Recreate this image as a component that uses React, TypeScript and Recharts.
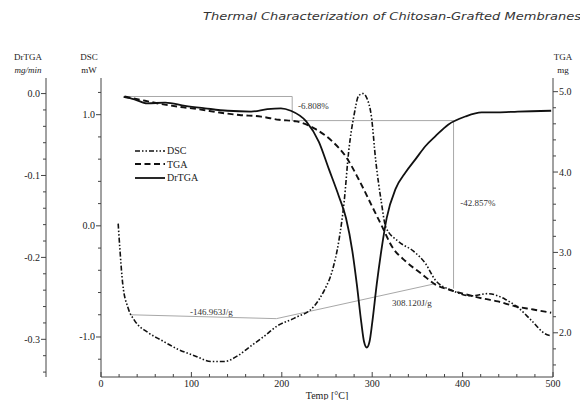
import React from "react";
import {
  ComposedChart,
  Line,
  XAxis,
  YAxis,
  Legend,
  ReferenceDot,
} from "recharts";

const SERIF = "'Liberation Serif', 'DejaVu Serif', serif";
const INK = "#222";
const GUIDE = "#a8a8a8";

// DSC heat flow (mW) vs temperature (°C)
const dscTemp = [19, 21, 24, 30, 37, 52, 67, 85, 104, 122, 137, 151, 166, 181, 195, 214, 236, 247, 256, 263, 269, 274, 280, 285, 290, 294, 299, 304, 310, 315, 329, 346, 359, 370, 388, 410, 428, 447, 462, 476, 491, 498];
const dscValue = [0.02, -0.22, -0.52, -0.74, -0.85, -0.96, -1.03, -1.11, -1.17, -1.22, -1.22, -1.17, -1.08, -0.99, -0.9, -0.83, -0.72, -0.58, -0.4, -0.14, 0.22, 0.67, 1.0, 1.17, 1.19, 1.15, 0.99, 0.58, 0.22, -0.01, -0.14, -0.23, -0.34, -0.49, -0.58, -0.63, -0.61, -0.66, -0.74, -0.85, -0.97, -0.99];

// TGA mass (mg)
const tgaTemp = [26, 43, 65, 87, 109, 131, 153, 177, 197, 216, 238, 256, 271, 285, 300, 311, 322, 337, 355, 370, 384, 403, 421, 439, 458, 478, 498];
const tgaMass = [4.94, 4.9, 4.85, 4.81, 4.78, 4.74, 4.71, 4.69, 4.65, 4.63, 4.53, 4.38, 4.19, 3.91, 3.57, 3.32, 3.07, 2.89, 2.73, 2.6, 2.54, 2.48, 2.43, 2.39, 2.33, 2.29, 2.25];

// DrTGA (mg/min)
const drTemp = [25, 37, 51, 71, 93, 115, 140, 166, 184, 199, 210, 227, 241, 252, 263, 271, 278, 283, 288, 291, 294, 297, 300, 305, 311, 316, 326, 337, 348, 359, 370, 384, 403, 421, 439, 461, 498];
const drValue = [-0.004, -0.007, -0.012, -0.011, -0.015, -0.018, -0.021, -0.022, -0.019, -0.018, -0.021, -0.034, -0.059, -0.092, -0.125, -0.152, -0.192, -0.233, -0.28, -0.303, -0.31, -0.303, -0.28, -0.233, -0.185, -0.152, -0.116, -0.096, -0.08, -0.064, -0.052, -0.038, -0.028, -0.023, -0.023, -0.022, -0.021];

// grey construction lines (mass step on TGA, DSC baselines)
const stepTemp = [26, 211.5, 211.5, 390, 390];
const stepMass = [4.94, 4.94, 4.64, 4.64, 2.55];
const baseTemp = [32, 194, 370];
const baseDsc = [-0.8, -0.835, -0.52];

// annotation texts and where they sit
const noteText = ["-6.808%", "-42.857%", "-146.963J/g", "308.120J/g"];
const noteAxis = ["tga", "tga", "heat", "heat"];
const noteTemp = [235, 417, 122, 344];
const noteValue = [4.83, 3.62, -0.77, -0.69];

// tick labels
const xMajor = [0, 100, 200, 300, 400, 500];
const dscMajor = [-1, 0, 1];
const drMajor = [0, -0.1, -0.2, -0.3];
const tgaMajor = [2, 3, 4, 5];

const legendNames = ["DSC", "TGA", "DrTGA"];
const seriesStyle: Record<string, { dash?: string; width: number }> = {
  DSC: { dash: "5 2 1.5 2 1.5 2", width: 1.6 },
  TGA: { dash: "6 3.5", width: 1.9 },
  DrTGA: { width: 1.8 },
};

const range = (a: number, b: number, s: number) => {
  const out: number[] = [];
  for (let i = 0; a + i * s <= b + 1e-9; i++) out.push(Math.round((a + i * s) * 1000) / 1000);
  return out;
};

const pairs = (xs: number[], ys: number[]) => xs.map((t, i) => ({ t, v: ys[i] }));

const dscData = pairs(dscTemp, dscValue);
const tgaData = pairs(tgaTemp, tgaMass);
const drData = pairs(drTemp, drValue);
const stepData = pairs(stepTemp, stepMass);
const baseData = pairs(baseTemp, baseDsc);

function AxisTick(props: any) {
  const { x, y, payload, side, majors, digits } = props;
  const v = payload.value;
  const major = majors.some((m: number) => Math.abs(m - v) < 1e-6);
  const len = major ? 5 : 3;
  const label = major ? Number(v).toFixed(digits) : "";
  const txt = { fontFamily: SERIF, fontSize: 10, fill: INK };
  if (side === "left") {
    return (
      <g>
        <line x1={x - len} x2={x} y1={y} y2={y} stroke="#444" />
        {label && (
          <text x={x - 6} y={y} dy="0.35em" textAnchor="end" {...txt}>
            {label}
          </text>
        )}
      </g>
    );
  }
  if (side === "right") {
    return (
      <g>
        <line x1={x} x2={x + len} y1={y} y2={y} stroke="#444" />
        {label && (
          <text x={x + 6} y={y} dy="0.35em" textAnchor="start" {...txt}>
            {label}
          </text>
        )}
      </g>
    );
  }
  return (
    <g>
      <line x1={x} x2={x} y1={y} y2={y - len} stroke="#444" />
      {label && (
        <text x={x} y={y + 10} textAnchor="middle" {...txt}>
          {label}
        </text>
      )}
    </g>
  );
}

function LegendBox() {
  return (
    <div style={{ fontFamily: SERIF, fontSize: 10, color: INK, lineHeight: "13.5px" }}>
      {legendNames.map((n) => (
        <div key={n} style={{ display: "flex", alignItems: "center", height: 13.5 }}>
          <svg width={30} height={6}>
            <line
              x1={0}
              x2={30}
              y1={3}
              y2={3}
              stroke="#111"
              strokeWidth={seriesStyle[n].width}
              strokeDasharray={seriesStyle[n].dash}
            />
          </svg>
          <span style={{ marginLeft: 2 }}>{n}</span>
        </div>
      ))}
    </div>
  );
}

export default function App() {
  const axisLine = { stroke: "#444" };
  return (
    <div style={{ position: "fixed", left: 0, top: 0, width: 580, height: 400, background: "#fff" }}>
      <ComposedChart width={580} height={400} margin={{ top: 78, right: 0, bottom: 0, left: 0 }}>
        <XAxis
          dataKey="t"
          type="number"
          domain={[0, 500]}
          ticks={range(0, 500, 20)}
          interval={0}
          height={23}
          tickSize={0}
          tickMargin={0}
          tickLine={false}
          axisLine={axisLine}
          allowDataOverflow
          tick={(p: any) => <AxisTick {...p} side="bottom" majors={xMajor} digits={0} />}
        />
        <XAxis
          xAxisId="top"
          orientation="top"
          type="number"
          domain={[0, 500]}
          height={0}
          tick={false}
          tickLine={false}
          axisLine={{ stroke: "#888" }}
        />
        {/* DSC scale sits on the plot frame, DrTGA scale further out */}
        <YAxis
          yAxisId="heat"
          orientation="left"
          type="number"
          width={55}
          domain={[-1.36, 1.33]}
          ticks={range(-1.2, 1.2, 0.2)}
          interval={0}
          tickSize={0}
          tickMargin={0}
          tickLine={false}
          axisLine={axisLine}
          allowDataOverflow
          tick={(p: any) => <AxisTick {...p} side="left" majors={dscMajor} digits={1} />}
        />
        <YAxis
          yAxisId="rate"
          orientation="left"
          type="number"
          width={46}
          domain={[-0.346, 0.019]}
          ticks={range(-0.34, 0, 0.02)}
          interval={0}
          tickSize={0}
          tickMargin={0}
          tickLine={false}
          axisLine={axisLine}
          allowDataOverflow
          tick={(p: any) => <AxisTick {...p} side="left" majors={drMajor} digits={1} />}
        />
        <YAxis
          yAxisId="tga"
          orientation="right"
          type="number"
          width={27}
          domain={[1.45, 5.17]}
          ticks={range(1.6, 5.0, 0.2)}
          interval={0}
          tickSize={0}
          tickMargin={0}
          tickLine={false}
          axisLine={axisLine}
          allowDataOverflow
          tick={(p: any) => <AxisTick {...p} side="right" majors={tgaMajor} digits={1} />}
        />

        <Line yAxisId="tga" data={stepData} dataKey="v" type="linear" stroke={GUIDE} strokeWidth={1} dot={false} legendType="none" isAnimationActive={false} />
        <Line yAxisId="heat" data={baseData} dataKey="v" type="linear" stroke={GUIDE} strokeWidth={1} dot={false} legendType="none" isAnimationActive={false} />

        <Line
          name="DSC"
          yAxisId="heat"
          data={dscData}
          dataKey="v"
          type="monotone"
          stroke="#111"
          strokeWidth={seriesStyle.DSC.width}
          strokeDasharray={seriesStyle.DSC.dash}
          dot={false}
          isAnimationActive={false}
        />
        <Line
          name="TGA"
          yAxisId="tga"
          data={tgaData}
          dataKey="v"
          type="monotone"
          stroke="#111"
          strokeWidth={seriesStyle.TGA.width}
          strokeDasharray={seriesStyle.TGA.dash}
          dot={false}
          isAnimationActive={false}
        />
        <Line
          name="DrTGA"
          yAxisId="rate"
          data={drData}
          dataKey="v"
          type="monotone"
          stroke="#111"
          strokeWidth={seriesStyle.DrTGA.width}
          dot={false}
          isAnimationActive={false}
        />

        {noteText.map((txt, i) => (
          <ReferenceDot
            key={txt}
            yAxisId={noteAxis[i]}
            x={noteTemp[i]}
            y={noteValue[i]}
            r={0}
            stroke="none"
            fill="none"
            label={{ value: txt, position: "center", fontSize: 9, fill: "#333", fontFamily: SERIF }}
          />
        ))}

        <Legend
          layout="vertical"
          align="center"
          verticalAlign="middle"
          content={() => <LegendBox />}
          wrapperStyle={{ left: 135, top: 144, width: "auto", height: "auto" }}
        />
      </ComposedChart>

      <svg width={580} height={400} style={{ position: "absolute", left: 0, top: 0, pointerEvents: "none" }}>
        <text
          x={203}
          y={20}
          fontFamily="'DejaVu Sans', sans-serif"
          fontStyle="italic"
          fontSize={11}
          fill="#333"
          textLength={378}
          lengthAdjust="spacingAndGlyphs"
        >
          Thermal Characterization of Chitosan-Grafted Membranes
        </text>
        <g fontFamily={SERIF} fontSize={9} fill={INK} textAnchor="middle">
          <text x={28} y={60}>DrTGA</text>
          <text x={28} y={73} fontStyle="italic">mg/min</text>
          <text x={89} y={60}>DSC</text>
          <text x={89} y={73}>mW</text>
          <text x={563} y={60}>TGA</text>
          <text x={563} y={73}>mg</text>
          <text x={327} y={399} fontSize={10}>Temp [°C]</text>
        </g>
      </svg>
    </div>
  );
}
